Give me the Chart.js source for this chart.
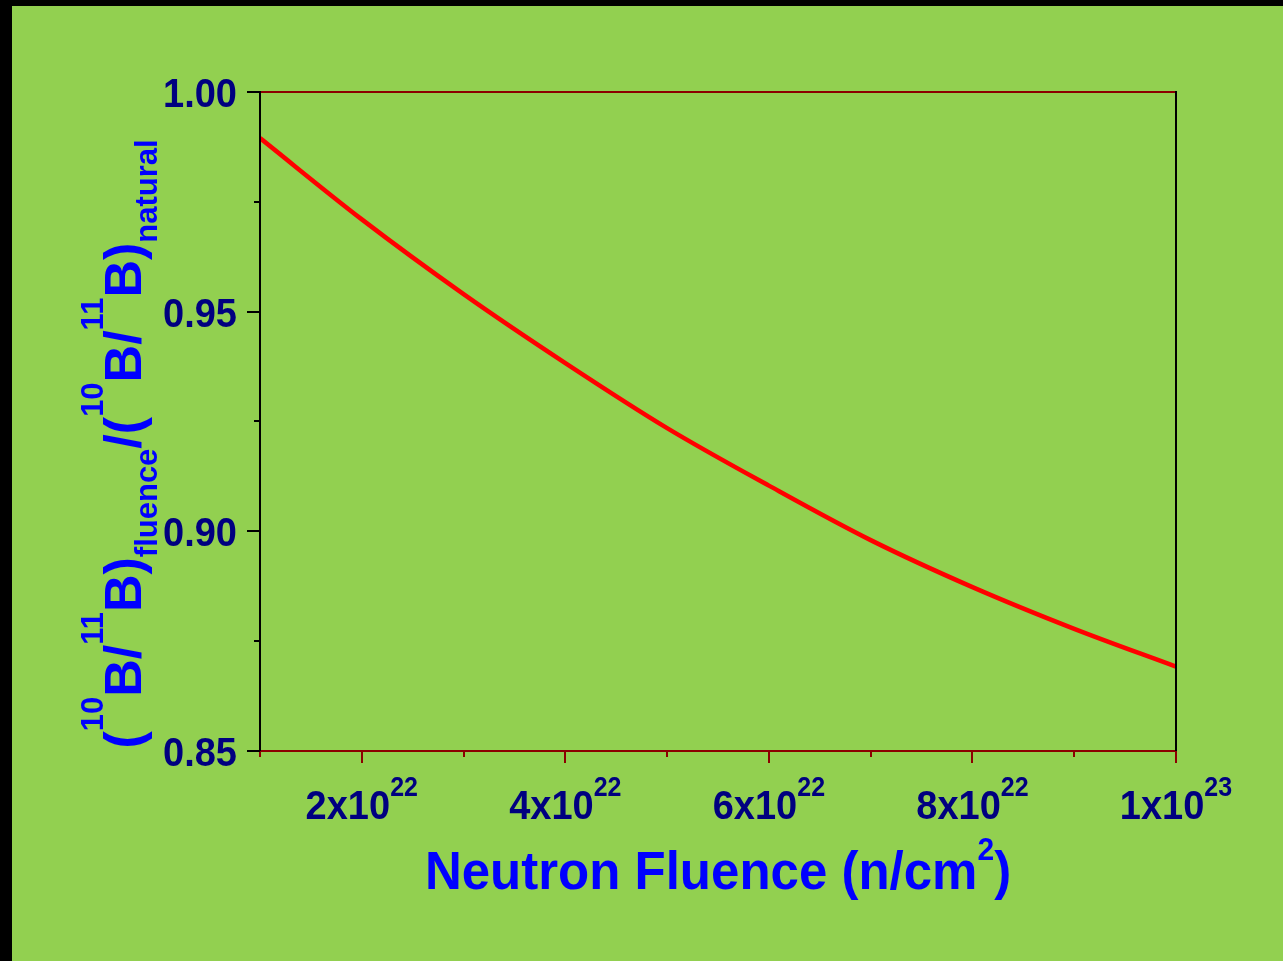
<!DOCTYPE html>
<html>
<head>
<meta charset="utf-8">
<title>Boron isotope ratio vs neutron fluence</title>
<script src="https://cdn.jsdelivr.net/npm/chart.js@4.4.1/dist/chart.umd.min.js"></script>
<style>
  html, body { margin: 0; padding: 0; background: #000; overflow: hidden; }
  #wrap { position: absolute; left: 12px; top: 6px; width: 1271px; height: 955px; background: #92d050; }
  #chart { display: block; }
</style>
</head>
<body>
<div id="wrap"><canvas id="chart" width="1271" height="955"></canvas></div>
<script>
// neutron fluence (n/cm2) and the ratio (10B/11B)fluence / (10B/11B)natural
const fluence = [1e22, 2e22, 3e22, 4e22, 5e22, 6e22, 7e22, 8e22, 9e22, 1e23];
const ratio = [0.9895, 0.971, 0.954, 0.9383, 0.9235, 0.9104, 0.898, 0.8873, 0.8778, 0.8692];

// axis ticks
const xTicks = [1e22, 2e22, 3e22, 4e22, 5e22, 6e22, 7e22, 8e22, 9e22, 1e23];
const xMajor = [2e22, 4e22, 6e22, 8e22, 1e23];
const xLabelBase = ['2x10', '4x10', '6x10', '8x10', '1x10'];
const xLabelExp = ['22', '22', '22', '22', '23'];
const yMajor = [0.85, 0.90, 0.95, 1.00];
const yMinor = [0.875, 0.925, 0.975];
const yLabels = ['0.85', '0.90', '0.95', '1.00'];

const FONT = '"Liberation Sans", Arial, Helvetica, sans-serif';
const axisRed = '#8b0000';
const tickNavy = '#000080';
const titleBlue = '#0000ff';

// text pieces (normal / raised / lowered) laid out one after another
function runWidth(ctx, parts) {
  let w = 0;
  parts.forEach(p => { ctx.font = 'bold ' + p.size + 'px ' + FONT; w += ctx.measureText(p.t).width; });
  return w;
}
function drawRun(ctx, parts, x, y, sy) {
  ctx.save();
  ctx.translate(0, y);
  ctx.scale(1, sy || 1);
  parts.forEach(p => {
    ctx.font = 'bold ' + p.size + 'px ' + FONT;
    ctx.fillText(p.t, x, (p.dy || 0) / (sy || 1));
    x += ctx.measureText(p.t).width;
  });
  ctx.restore();
}

function seg(ctx, x1, y1, x2, y2) {
  ctx.beginPath();
  ctx.moveTo(x1, y1);
  ctx.lineTo(x2, y2);
  ctx.stroke();
}

const plotFrame = {
  id: 'plotFrame',
  afterDatasetsDraw(chart) {
    const { ctx, chartArea: a, scales: { x, y } } = chart;
    ctx.save();
    ctx.lineWidth = 2;

    // bottom and top borders, x ticks
    ctx.strokeStyle = axisRed;
    seg(ctx, a.left, a.bottom, a.right + 1, a.bottom);
    seg(ctx, a.left, a.top, a.right + 1, a.top);
    xTicks.forEach(v => {
      const px = Math.round(x.getPixelForValue(v));
      const len = xMajor.includes(v) ? 12 : 6;
      seg(ctx, px, a.bottom, px, a.bottom + len);
    });

    // left and right borders, y ticks
    ctx.strokeStyle = '#000';
    seg(ctx, a.left, a.top - 1, a.left, a.bottom);
    seg(ctx, a.right, a.top - 1, a.right, a.bottom);
    yMajor.forEach(v => {
      const py = Math.round(y.getPixelForValue(v));
      seg(ctx, a.left - 13, py, a.left, py);
    });
    yMinor.forEach(v => {
      const py = Math.round(y.getPixelForValue(v));
      seg(ctx, a.left - 6, py, a.left, py);
    });

    // y tick labels
    ctx.fillStyle = tickNavy;
    ctx.textBaseline = 'alphabetic';
    ctx.textAlign = 'left';
    yMajor.forEach((v, i) => {
      const parts = [{ t: yLabels[i], size: 38 }];
      const w = runWidth(ctx, parts);
      drawRun(ctx, parts, a.left - 23 - w, y.getPixelForValue(v) + 15, 1.08);
    });

    // x tick labels with exponents
    xMajor.forEach((v, i) => {
      const parts = [
        { t: xLabelBase[i], size: 38 },
        { t: xLabelExp[i], size: 25, dy: -23 }
      ];
      const w = runWidth(ctx, parts);
      drawRun(ctx, parts, x.getPixelForValue(v) - w / 2, a.bottom + 68, 1.08);
    });

    // x axis title
    ctx.fillStyle = titleBlue;
    const xTitle = [
      { t: 'Neutron Fluence (n/cm', size: 51 },
      { t: '2', size: 30, dy: -29 },
      { t: ')', size: 51 }
    ];
    const xw = runWidth(ctx, xTitle);
    drawRun(ctx, xTitle, (a.left + a.right) / 2 - xw / 2, a.bottom + 138, 1.05);

    // y axis title, rotated
    const yTitle = [
      { t: '(', size: 52 },
      { t: '10', size: 31, dy: -38 },
      { t: 'B/', size: 52 },
      { t: '11', size: 31, dy: -38 },
      { t: 'B)', size: 52 },
      { t: 'fluence', size: 31, dy: 16 },
      { t: '/(', size: 52 },
      { t: '10', size: 31, dy: -38 },
      { t: 'B/', size: 52 },
      { t: '11', size: 31, dy: -38 },
      { t: 'B)', size: 52 },
      { t: 'natural', size: 31, dy: 16 }
    ];
    const yw = runWidth(ctx, yTitle);
    ctx.translate(129, 438);
    ctx.rotate(-Math.PI / 2);
    drawRun(ctx, yTitle, -yw / 2, 0);

    ctx.restore();
  }
};

new Chart(document.getElementById('chart'), {
  type: 'line',
  data: {
    datasets: [{
      data: fluence.map((f, i) => ({ x: f, y: ratio[i] })),
      borderColor: '#ff0000',
      borderWidth: 4.5,
      pointRadius: 0,
      cubicInterpolationMode: 'monotone',
      fill: false
    }]
  },
  options: {
    responsive: false,
    devicePixelRatio: 1,
    animation: false,
    events: [],
    layout: { padding: { left: 248, top: 86, right: 107, bottom: 210 } },
    plugins: { legend: { display: false }, tooltip: { enabled: false } },
    scales: {
      x: { type: 'linear', min: 1e22, max: 1e23, display: false },
      y: { type: 'linear', min: 0.85, max: 1.0, display: false }
    }
  },
  plugins: [plotFrame]
});
</script>
</body>
</html>
